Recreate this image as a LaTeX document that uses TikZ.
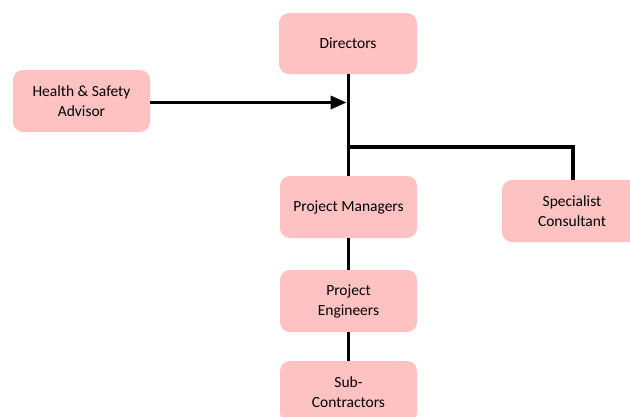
\documentclass[tikz,border=0pt]{standalone}
\usepackage{fontspec}
\setmainfont{Carlito}
\usetikzlibrary{arrows.meta}
\definecolor{boxpink}{RGB}{255,194,194}
\tikzset{
  orgbox/.style={fill=boxpink, draw=none, rounded corners=10pt,
    minimum width=137pt, minimum height=62pt, align=center, inner sep=2pt,
    font=\fontsize{15.5pt}{20pt}\selectfont},
  conn/.style={line width=3.8pt, black},
}
\begin{document}
\begin{tikzpicture}[x=1pt,y=-1pt]
\clip (0,0) rectangle (630,416);
\useasboundingbox (0,0) rectangle (630,416);
\node[orgbox, minimum width=138pt, minimum height=61pt] (dir) at (348,43.5) {Directors};
\node[orgbox] (hs) at (81.5,101) {Health \& Safety\\Advisor};
\node[orgbox] (pm) at (348.5,207) {Project Managers};
\node[orgbox, minimum width=140pt] (sp) at (572,211) {Specialist\\Consultant};
\node[orgbox] (pe) at (348.5,301) {Project\\Engineers};
\node[orgbox] (sc) at (348.5,392) {Sub-\\Contractors};
\coordinate (jn) at (348.5,147);
\coordinate (jr) at (573,147);
\coordinate (ah) at (346.6,102.5);
\draw[conn] (348.5,74) -- (pm.north);
\draw[conn] (jn) -- (jr) -- (sp.north -| jr);
\draw[conn] (pm.south) -- (pe.north);
\draw[conn] (pe.south) -- (sc.north);
\draw[line width=3.4pt, -{Triangle[length=16pt,width=13pt]}] (hs.east |- ah) -- (ah);
\end{tikzpicture}
\end{document}
